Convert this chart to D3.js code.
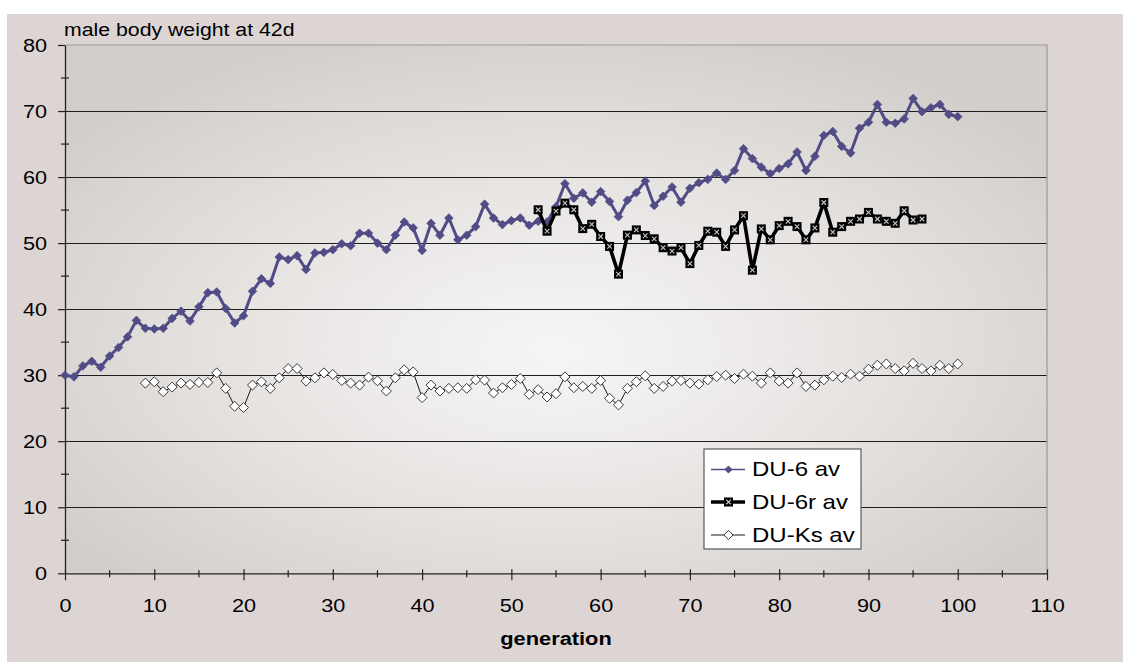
<!DOCTYPE html>
<html>
<head>
<meta charset="utf-8">
<script src="https://cdn.jsdelivr.net/npm/d3@7"></script>
<style>
  html, body { margin: 0; padding: 0; background: #ffffff; }
  svg { display: block; font-family: "Liberation Sans", Arial, Helvetica, sans-serif; }
</style>
</head>
<body>
<svg id="chart" width="1123" height="662"></svg>
<script>
// Mean male body weight at day 42 per generation for three mouse lines
const du6Start = 0;
const du6 = [
  30.0, 29.75, 31.4, 32.1, 31.2, 32.9, 34.2, 35.8, 38.3, 37.1,
  37.0, 37.1, 38.6, 39.7, 38.2, 40.35, 42.5, 42.6, 40.1, 37.9,
  39.0, 42.7, 44.6, 43.9, 47.9, 47.5, 48.1, 46.0, 48.5, 48.6,
  49.0, 49.9, 49.6, 51.5, 51.5, 50.0, 49.0, 51.2, 53.2, 52.3,
  48.9, 53.0, 51.2, 53.8, 50.5, 51.2, 52.5, 55.9, 53.8, 52.8,
  53.4, 53.8, 52.7, 53.3, 53.2, 55.5, 59.0, 56.8, 57.6, 56.2,
  57.8, 56.3, 54.0, 56.5, 57.65, 59.4, 55.7, 57.1, 58.5, 56.2,
  58.3, 59.15, 59.65, 60.6, 59.65, 61.0, 64.3, 62.8, 61.5, 60.5,
  61.3, 62.0, 63.8, 61.0, 63.15, 66.3, 66.9, 64.65, 63.65, 67.4,
  68.3, 71.0, 68.3, 68.15, 68.8, 71.9, 69.9, 70.5, 71.0, 69.5,
  69.15
];

const du6rStart = 53;
const du6r = [
  55.05, 51.8, 54.85, 56.05, 55.05, 52.2, 52.85, 51.0, 49.5, 45.3,
  51.2, 52.0, 51.15, 50.65, 49.3, 48.8, 49.3, 46.9, 49.65, 51.8,
  51.65, 49.5, 52.0, 54.15, 45.9, 52.15, 50.5, 52.65, 53.3, 52.5,
  50.5, 52.3, 56.15, 51.65, 52.5, 53.3, 53.65, 54.65, 53.65, 53.3,
  53.0, 54.9, 53.5, 53.65
];

const duKsStart = 9;
const duKs = [
  28.8, 29.0, 27.5, 28.2, 28.8, 28.6, 28.9, 28.9, 30.35, 28.0,
  25.3, 25.1, 28.5, 29.0, 28.0, 29.6, 31.0, 31.0, 29.1, 29.6,
  30.35, 30.1, 29.2, 28.8, 28.5, 29.7, 29.15, 27.6, 29.6, 30.8,
  30.5, 26.6, 28.5, 27.6, 28.0, 28.1, 28.0, 29.3, 29.25, 27.3,
  28.1, 28.6, 29.5, 27.1, 27.8, 26.7, 27.2, 29.75, 28.1, 28.3,
  28.0, 29.2, 26.5, 25.5, 28.0, 29.0, 29.9, 28.0, 28.3, 29.1,
  29.2, 28.8, 28.65, 29.3, 29.8, 30.0, 29.5, 30.15, 29.85, 28.8,
  30.35, 29.1, 28.8, 30.35, 28.3, 28.5, 29.3, 29.85, 29.65, 30.15,
  29.85, 30.9, 31.5, 31.7, 31.0, 30.65, 31.8, 31.0, 30.65, 31.5,
  31.0, 31.7
];

const seriesNames = ["DU-6 av", "DU-6r av", "DU-Ks av"];
const yTicks = [0, 10, 20, 30, 40, 50, 60, 70, 80];
const yMinorTicks = [5, 15, 25, 35, 45, 55, 65, 75];
const xTicks = [0, 10, 20, 30, 40, 50, 60, 70, 80, 90, 100, 110];
const xMinorTicks = [5, 15, 25, 35, 45, 55, 65, 75, 85, 95, 105];
const chartTitle = "male body weight at 42d";
const xTitle = "generation";

// ---- layout ----
const W = 1123, H = 662;
const plot = { left: 65, right: 1047, top: 45, bottom: 573.3 };
const purple = "#514c85";

const svg = d3.select("#chart");

const x = d3.scaleLinear().domain([0, 110]).range([plot.left, plot.right]);
const y = d3.scaleLinear().domain([0, 80]).range([plot.bottom, plot.top]);

// stretch text horizontally about its own anchor
function stretch(sel, sx) {
  sel.each(function () {
    const t = d3.select(this);
    const ax = +t.attr("x") || 0;
    t.attr("transform", `translate(${ax * (1 - sx)},0) scale(${sx},1)`);
  });
}

// ---- backgrounds ----
const defs = svg.append("defs");
const grad = defs.append("radialGradient")
  .attr("id", "plotFill")
  .attr("cx", 0.5).attr("cy", 0.56).attr("r", 0.62)
  .attr("fx", 0.5).attr("fy", 0.58);
[[0, "#f6f5f4"], [0.25, "#f0eeed"], [0.55, "#e5e2e0"], [0.85, "#d9d5d3"], [1, "#d2cecb"]]
  .forEach(([o, c]) => grad.append("stop").attr("offset", o).attr("stop-color", c));

svg.append("rect").attr("x", 0).attr("y", 0).attr("width", W).attr("height", H).attr("fill", "#ffffff");
svg.append("rect").attr("x", 7).attr("y", 14).attr("width", W - 7).attr("height", H - 14).attr("fill", "#dcd5d4");

svg.append("rect")
  .attr("x", plot.left).attr("y", plot.top)
  .attr("width", plot.right - plot.left).attr("height", plot.bottom - plot.top)
  .attr("fill", "url(#plotFill)");

// ---- gridlines ----
svg.append("g")
  .selectAll("line")
  .data(yTicks.filter(v => v > 0 && v < 80))
  .join("line")
  .attr("x1", plot.left).attr("x2", plot.right)
  .attr("y1", d => y(d)).attr("y2", d => y(d))
  .attr("stroke", "#1e1e1e").attr("stroke-width", 1).attr("shape-rendering", "crispEdges");

// plot border (top and right)
svg.append("path")
  .attr("d", `M${plot.left},${y(80)}H${plot.right}V${plot.bottom}`)
  .attr("fill", "none").attr("stroke", "#9c9898").attr("stroke-width", 1.2);

// ---- axes ----
const yAxis = d3.axisLeft(y).tickValues(yTicks).tickSizeInner(7).tickSizeOuter(0).tickPadding(11);
const gy = svg.append("g").attr("transform", `translate(${plot.left},0)`).call(yAxis);
gy.select(".domain").attr("stroke", "#222").attr("stroke-width", 1.3);
gy.selectAll(".tick line").attr("stroke", "#222").attr("stroke-width", 1.2);
gy.selectAll(".tick text").attr("font-size", 19).attr("fill", "#000")
  .attr("font-family", "Liberation Sans, Arial, sans-serif").call(stretch, 1.14);

svg.append("g").selectAll("line").data(yMinorTicks).join("line")
  .attr("x1", plot.left - 4).attr("x2", plot.left + 4)
  .attr("y1", d => y(d)).attr("y2", d => y(d))
  .attr("stroke", "#222").attr("stroke-width", 1.2);

const xAxis = d3.axisBottom(x).tickValues(xTicks).tickSizeInner(7).tickSizeOuter(0).tickPadding(18);
const gx = svg.append("g").attr("transform", `translate(0,${plot.bottom})`).call(xAxis);
gx.select(".domain").attr("stroke", "#222").attr("stroke-width", 1.3);
gx.selectAll(".tick line").attr("y1", -4).attr("stroke", "#222").attr("stroke-width", 1.2);
gx.selectAll(".tick text").attr("font-size", 19).attr("fill", "#000")
  .attr("font-family", "Liberation Sans, Arial, sans-serif").call(stretch, 1.14);

svg.append("g").selectAll("line").data(xMinorTicks).join("line")
  .attr("x1", d => x(d)).attr("x2", d => x(d))
  .attr("y1", plot.bottom - 3).attr("y2", plot.bottom + 4)
  .attr("stroke", "#222").attr("stroke-width", 1.2);

// ---- titles ----
svg.append("text")
  .attr("x", 64).attr("y", 36)
  .attr("font-size", 19).attr("fill", "#000")
  .text(chartTitle).call(stretch, 1.12);

svg.append("text")
  .attr("x", (plot.left + plot.right) / 2).attr("y", 645)
  .attr("text-anchor", "middle")
  .attr("font-size", 18.5).attr("font-weight", "bold").attr("fill", "#000")
  .text(xTitle).call(stretch, 1.18);

// ---- series ----
const toPoints = (vals, start) => vals.map((v, i) => ({ g: start + i, v }));
const line = d3.line().x(d => x(d.g)).y(d => y(d.v));

const sDu6 = toPoints(du6, du6Start);
const sDu6r = toPoints(du6r, du6rStart);
const sDuKs = toPoints(duKs, duKsStart);

// marker painters
function diamondFilled(g, cx, cy, r) {
  g.append("path")
    .attr("d", `M${cx},${cy - r}L${cx + r},${cy}L${cx},${cy + r}L${cx - r},${cy}Z`)
    .attr("fill", purple).attr("stroke", purple).attr("stroke-width", 0.8);
}
function diamondOpen(g, cx, cy, r) {
  g.append("path")
    .attr("d", `M${cx},${cy - r}L${cx + r},${cy}L${cx},${cy + r}L${cx - r},${cy}Z`)
    .attr("fill", "#ffffff").attr("stroke", "#3a3a3a").attr("stroke-width", 1);
}
function squareX(g, cx, cy, s) {
  g.append("rect")
    .attr("x", cx - s / 2).attr("y", cy - s / 2).attr("width", s).attr("height", s)
    .attr("fill", "#000");
  const k = s * 0.25;
  g.append("path")
    .attr("d", `M${cx - k},${cy - k}L${cx + k},${cy + k}M${cx + k},${cy - k}L${cx - k},${cy + k}`)
    .attr("stroke", "#c8c8c8").attr("stroke-width", 1.1);
}

// DU-6
svg.append("path").datum(sDu6).attr("d", line)
  .attr("fill", "none").attr("stroke", purple).attr("stroke-width", 3).attr("stroke-linejoin", "round");
const mDu6 = svg.append("g");
sDu6.forEach(d => diamondFilled(mDu6, x(d.g), y(d.v), 4.3));

// DU-6r
svg.append("path").datum(sDu6r).attr("d", line)
  .attr("fill", "none").attr("stroke", "#000").attr("stroke-width", 3.6).attr("stroke-linejoin", "round");
const mDu6r = svg.append("g");
sDu6r.forEach(d => squareX(mDu6r, x(d.g), y(d.v), 9));

// DU-Ks
svg.append("path").datum(sDuKs).attr("d", line)
  .attr("fill", "none").attr("stroke", "#1a1a1a").attr("stroke-width", 1);
const mDuKs = svg.append("g");
sDuKs.forEach(d => diamondOpen(mDuKs, x(d.g), y(d.v), 5));

// ---- legend ----
const lg = svg.append("g");
lg.append("rect")
  .attr("x", 704).attr("y", 449).attr("width", 157).attr("height", 100)
  .attr("fill", "#ffffff").attr("stroke", "#5a5a5a").attr("stroke-width", 1.2);

const rowY = [469.5, 502, 535];
const legendStyles = [
  { stroke: purple, width: 1.6, mark: (g, cx, cy) => diamondFilled(g, cx, cy, 3.6) },
  { stroke: "#000", width: 3.4, mark: (g, cx, cy) => squareX(g, cx, cy, 9) },
  { stroke: "#1a1a1a", width: 1, mark: (g, cx, cy) => diamondOpen(g, cx, cy, 4.6) }
];
seriesNames.forEach((name, i) => {
  const st = legendStyles[i];
  const cy = rowY[i];
  lg.append("line").attr("x1", 711).attr("x2", 745).attr("y1", cy).attr("y2", cy)
    .attr("stroke", st.stroke).attr("stroke-width", st.width);
  st.mark(lg, 728.5, cy);
  lg.append("text").attr("x", 752).attr("y", cy).attr("dy", "0.35em")
    .attr("font-size", 20).attr("fill", "#000").text(name).call(stretch, 1.2);
});
</script>
</body>
</html>
